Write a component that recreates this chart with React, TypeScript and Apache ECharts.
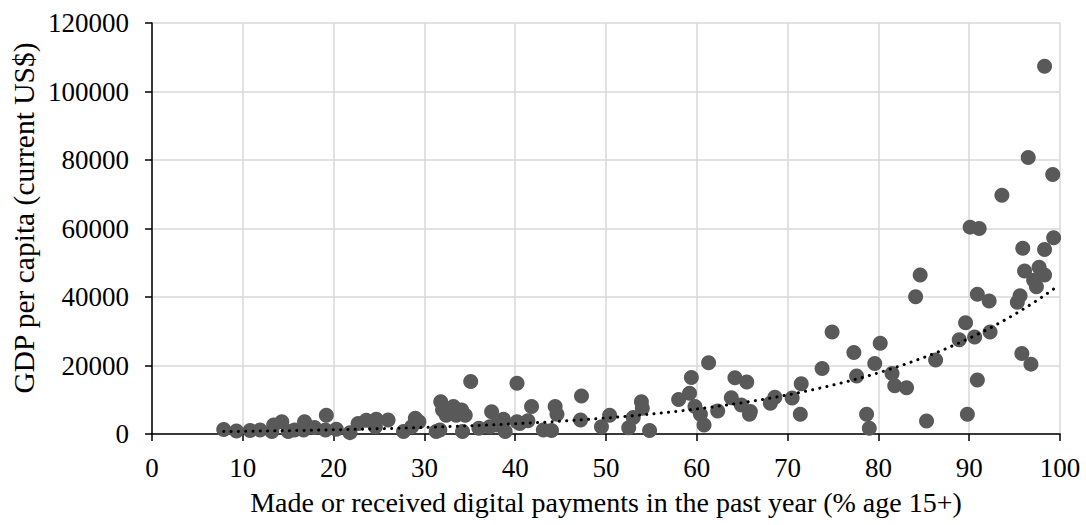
import React, { useEffect, useRef } from "react";
import * as echarts from "echarts";

// Made or received digital payments (% age 15+)
const paymentsPct: number[] = [
  7.9, 9.3, 10.8, 11.9, 13.2, 13.4, 14.3, 15.0, 15.7, 16.7, 16.8, 17.9, 19.1, 19.2, 20.3,
  21.8, 22.7, 23.6, 24.6, 24.7, 26.0, 27.7, 28.6, 29.0, 29.4,
  31.3, 31.7, 31.8, 32.0, 32.4, 33.2, 33.5, 34.1, 34.2, 34.5, 35.1, 36.0, 37.2, 37.4, 37.9, 38.7, 38.9, 40.2, 40.2, 40.5,
  41.4, 41.8, 43.1, 44.0, 44.4, 44.6, 47.2, 47.3, 49.5,
  50.4, 52.5, 53.0, 53.9, 54.0, 54.8, 58.0, 59.2, 59.4, 59.8,
  60.4, 60.8, 61.3, 62.3, 63.8, 64.2, 64.9, 65.5, 65.8, 65.9, 68.1, 68.6,
  70.5, 71.5, 71.4, 73.8, 74.9, 77.3, 77.6, 78.7, 79.0, 79.6,
  80.2, 81.5, 81.8, 83.1, 84.1, 84.6, 85.3, 86.3, 88.9, 89.6, 89.8,
  90.1, 90.6, 90.9, 90.9, 91.1, 92.2, 92.3, 93.6, 95.3, 95.6, 95.8, 95.9, 96.1, 96.5, 96.8,
  97.1, 97.4, 97.7, 98.3, 98.3, 98.3, 99.2, 99.3,
];

// GDP per capita (current US$)
const gdpPerCapita: number[] = [
  1300, 900, 1000, 1200, 700, 2600, 3600, 700, 1200, 1200, 3600, 1900, 1200, 5500, 1400,
  400, 3100, 4000, 2100, 4300, 4100, 700, 2100, 4600, 3600,
  700, 1200, 9400, 7000, 5500, 8000, 5500, 7000, 700, 5500, 15300, 1700, 2100, 6500, 2600, 4300, 700, 3600, 14800, 3100,
  3900, 8000, 1200, 1000, 8000, 5800, 4100, 11100, 2100,
  5500, 1800, 4800, 9400, 7500, 1000, 10100, 11900, 16500, 8000,
  5800, 2600, 20800, 6700, 10600, 16400, 8500, 15200, 5800, 6600, 9000, 10700,
  10500, 14700, 5800, 19100, 29800, 23800, 16900, 5800, 1700, 20600,
  26500, 17700, 14100, 13500, 40100, 46400, 3800, 21600, 27500, 32500, 5800,
  60400, 28300, 40800, 15800, 60000, 38800, 29800, 69700, 38500, 40400, 23500, 54200, 47600, 80700, 20400,
  44900, 43000, 48700, 53900, 46400, 107400, 75800, 57300,
];

// Exponential trendline: y = A * e^(B * x)
const trendA = 500;
const trendB = 0.0447;
const trendRange: number[] = [7.9, 99.3];

const xTicks = { min: 0, max: 100, interval: 10 };
const yTicks = { min: 0, max: 120000, interval: 20000 };

const xTitle = "Made or received digital payments in the past year (% age 15+)";
const yTitle = "GDP per capita (current US$)";

export default function App() {
  const ref = useRef<HTMLDivElement>(null);

  useEffect(() => {
    if (!ref.current) return;
    const chart = echarts.init(ref.current, null, { renderer: "svg" });

    const points = paymentsPct.map((x, i) => [x, gdpPerCapita[i]]);
    const trend: number[][] = [];
    const steps = 120;
    for (let i = 0; i <= steps; i++) {
      const x = trendRange[0] + ((trendRange[1] - trendRange[0]) * i) / steps;
      trend.push([x, trendA * Math.exp(trendB * x)]);
    }

    const font = "'Liberation Serif', 'Times New Roman', serif";

    chart.setOption({
      animation: false,
      backgroundColor: "#ffffff",
      grid: { left: 152, right: 26, top: 23, bottom: 91, containLabel: false },
      graphic: [
        {
          type: "text",
          x: 24,
          y: 218,
          rotation: Math.PI / 2,
          style: {
            text: yTitle,
            fontFamily: font,
            fontSize: 29.5,
            fill: "#000",
            align: "center",
            verticalAlign: "middle",
          },
        },
      ],
      xAxis: {
        type: "value",
        min: xTicks.min,
        max: xTicks.max,
        interval: xTicks.interval,
        name: xTitle,
        nameLocation: "middle",
        nameGap: 54,
        nameTextStyle: { fontFamily: font, fontSize: 28, color: "#000" },
        axisLine: { show: true, lineStyle: { color: "#000", width: 1.5 } },
        axisTick: { show: true, inside: false, length: 7, lineStyle: { color: "#000", width: 1.5 } },
        axisLabel: { fontFamily: font, fontSize: 27, color: "#000", margin: 20 },
        splitLine: { show: true, lineStyle: { color: "#d9d9d9", width: 1.5 } },
      },
      yAxis: {
        type: "value",
        min: yTicks.min,
        max: yTicks.max,
        interval: yTicks.interval,
        axisLine: { show: true, lineStyle: { color: "#000", width: 1.5 } },
        axisTick: { show: true, inside: false, length: 7, lineStyle: { color: "#000", width: 1.5 } },
        axisLabel: {
          fontFamily: font,
          fontSize: 27,
          color: "#000",
          margin: 23,
          formatter: (v: number) => String(v),
        },
        splitLine: { show: true, lineStyle: { color: "#d9d9d9", width: 1.5 } },
      },
      series: [
        {
          type: "scatter",
          data: points,
          symbolSize: 15,
          itemStyle: { color: "#595959", opacity: 1 },
          z: 2,
        },
        {
          type: "line",
          data: trend,
          showSymbol: false,
          symbol: "none",
          smooth: false,
          lineStyle: { color: "#000", width: 3, type: [0.1, 7.2], cap: "round" },
          z: 3,
        },
      ],
    });

    return () => chart.dispose();
  }, []);

  return (
    <div
      ref={ref}
      style={{ position: "fixed", left: 0, top: 0, width: 1086, height: 525 }}
    />
  );
}
